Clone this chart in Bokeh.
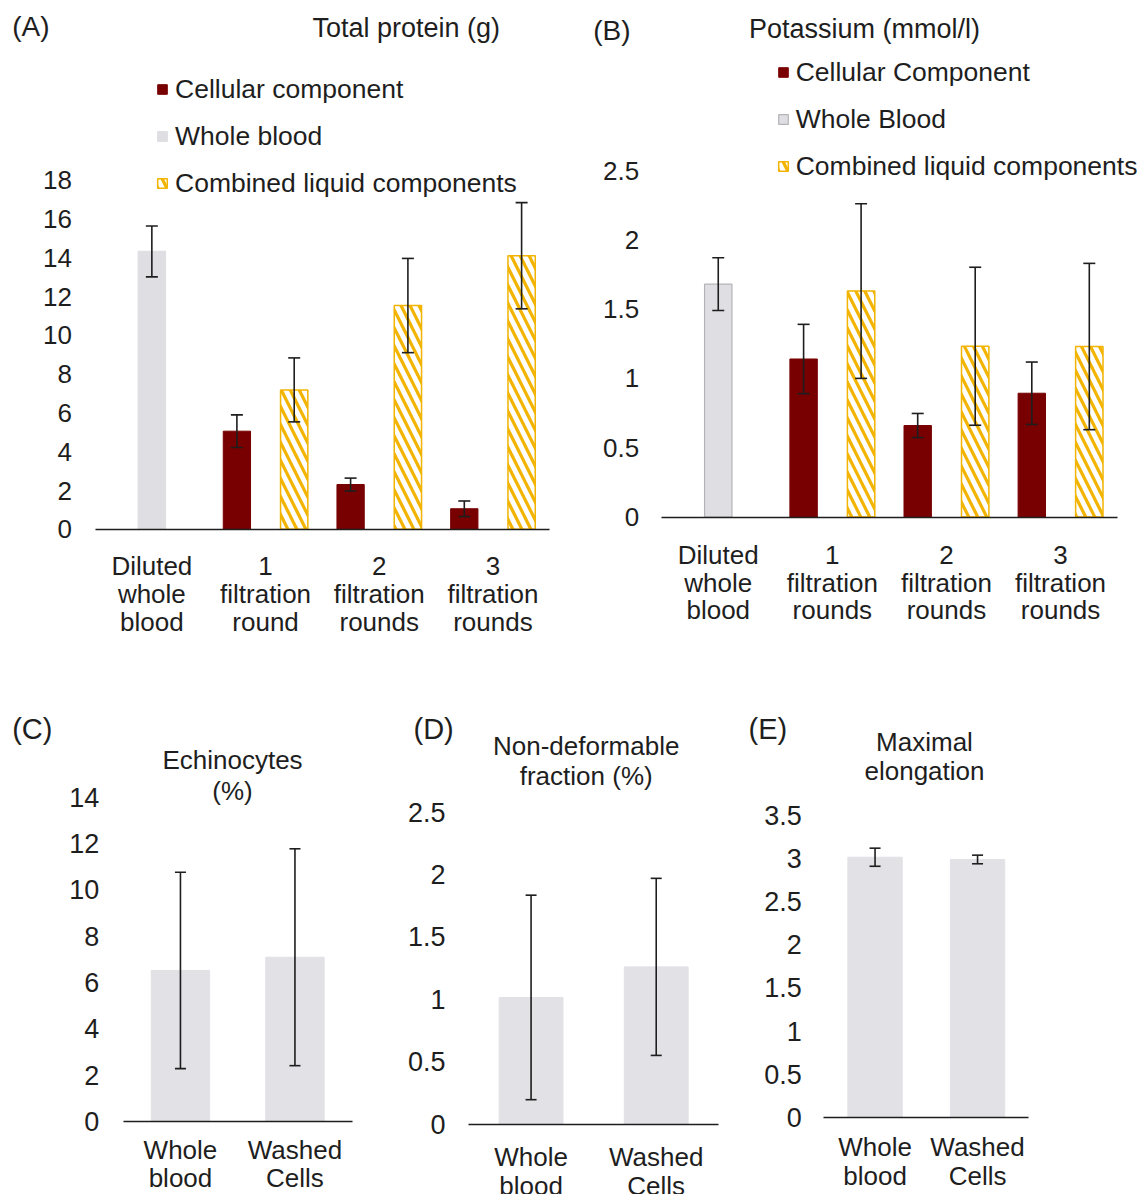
from bokeh.plotting import figure
from bokeh.models import (Range1d, FixedTicker, NumeralTickFormatter, LinearAxis,
                          ColumnDataSource, Whisker, TeeHead, Legend, LegendItem, Label)
from bokeh.transform import dodge
from bokeh.layouts import row, column
from bokeh.embed import file_html
from bokeh.resources import INLINE

FONT = "Liberation Sans"
TXT = "#1e1e1e"
RED = "#780000"
GRAY = "#dedee3"
GRAY_EDGE = "#b4b4b8"
GOLD = "#f2b400"

# ---------------- data ----------------
# (A) Total protein (g)
a_cats = ["Diluted\nwhole\nblood", "1\nfiltration\nround", "2\nfiltration\nrounds", "3\nfiltration\nrounds"]
a_whole = [14.33]
a_whole_err = [1.31]
a_cell = [5.06, 2.31, 1.06]
a_cell_err = [0.84, 0.33, 0.40]
a_liquid = [7.19, 11.54, 14.11]
a_liquid_err = [1.65, 2.43, 2.74]
a_ticks = [0, 2, 4, 6, 8, 10, 12, 14, 16, 18]

# (B) Potassium (mmol/l)
b_cats = ["Diluted\nwhole\nblood", "1\nfiltration\nrounds", "2\nfiltration\nrounds", "3\nfiltration\nrounds"]
b_whole = [1.68]
b_whole_err = [0.19]
b_cell = [1.14, 0.66, 0.893]
b_cell_err = [0.25, 0.087, 0.225]
b_liquid = [1.63, 1.232, 1.23]
b_liquid_err = [0.63, 0.57, 0.60]
b_ticks = [0, 0.5, 1, 1.5, 2, 2.5]

# (C)(D)(E)
cde_cats = ["Whole\nblood", "Washed\nCells"]
c_vals = [6.52, 7.09]
c_err = [4.24, 4.68]
c_ticks = [0, 2, 4, 6, 8, 10, 12, 14]
d_vals = [1.015, 1.26]
d_err = [0.82, 0.71]
d_ticks = [0, 0.5, 1, 1.5, 2, 2.5]
e_vals = [3.016, 2.99]
e_err = [0.105, 0.05]
e_ticks = [0, 0.5, 1, 1.5, 2, 2.5, 3, 3.5]


def src(cats, sub, vals, errs):
    return ColumnDataSource(dict(x=[cats.index(c) for c in sub], top=vals,
                                 upper=[v + e for v, e in zip(vals, errs)],
                                 lower=[v - e for v, e in zip(vals, errs)]))


def base_fig(cats, ticks, W, H, L, cw, Y0, ppu, tick_fs, ystand, xstand, xlh):
    n = len(cats)
    x0 = -0.5 - L / cw
    x1 = -0.5 + (W - L) / cw
    p = figure(width=W, height=H, x_range=Range1d(x0, x1),
               y_range=Range1d(-(H - Y0) / ppu, Y0 / ppu),
               x_axis_type=None, y_axis_type=None,
               output_backend="svg", toolbar_location=None,
               min_border_left=0, min_border_right=0, min_border_top=0, min_border_bottom=0)
    p.outline_line_color = None
    p.xgrid.visible = False
    p.ygrid.visible = False
    p.background_fill_color = "white"
    p.border_fill_color = "white"
    ya = LinearAxis(fixed_location=-0.5, ticker=FixedTicker(ticks=ticks),
                    formatter=NumeralTickFormatter(format="0.[0]"),
                    axis_line_color=None, major_tick_line_color=None, minor_tick_line_color=None,
                    major_tick_out=0, major_tick_in=0,
                    major_label_standoff=ystand, major_label_text_font=FONT,
                    major_label_text_font_size=tick_fs, major_label_text_color=TXT)
    p.add_layout(ya, "left")
    xa = LinearAxis(fixed_location=0, bounds=(-0.5, n - 0.5),
                    ticker=FixedTicker(ticks=list(range(n))),
                    major_label_overrides={i: c for i, c in enumerate(cats)},
                    axis_line_color=TXT, axis_line_width=1.6,
                    major_tick_line_color=None, minor_tick_line_color=None,
                    major_tick_out=0, major_tick_in=0,
                    major_label_standoff=xstand, major_label_text_font=FONT,
                    major_label_text_font_size="26px", major_label_text_color=TXT,
                    major_label_text_line_height=xlh)
    p.add_layout(xa, "below")
    return p


def whisker(p, s, off, cap):
    hd = dict(size=cap, line_color=TXT, line_width=1.6)
    w = Whisker(source=s, base=dodge("x", off), upper="upper", lower="lower",
                dimension="height", line_color=TXT, line_width=1.6, level="annotation",
                upper_head=TeeHead(**hd), lower_head=TeeHead(**hd))
    p.add_layout(w)


def label(p, x, y, text, fs, align="left"):
    p.add_layout(Label(x=x, y=y, x_units="screen", y_units="screen", text=text,
                       text_font=FONT, text_font_size=fs, text_color=TXT,
                       text_align=align, text_baseline="middle"))


def top_panel(cats, whole, whole_err, cell, cell_err, liquid, liquid_err, ticks,
              W, L, cw, Y0, ppu, ystand, xstand, names, whole_edge, leg_xy,
              tag, tag_xy, title, title_xy):
    H = 650
    p = base_fig(cats, ticks, W, H, L, cw, Y0, ppu, "26px", ystand, xstand, 0.92)
    off = 0.252
    bw = 0.24
    s_whole = src(cats, cats[:1], whole, whole_err)
    s_cell = src(cats, cats[1:], cell, cell_err)
    s_liq = src(cats, cats[1:], liquid, liquid_err)
    r_cell = p.vbar(x=dodge("x", -off), top="top", bottom=0, width=bw,
                    source=s_cell, fill_color=RED, line_color=RED)
    r_whole = p.vbar(x="x", top="top", bottom=0, width=bw,
                     source=s_whole, fill_color=GRAY,
                     line_color=GRAY_EDGE if whole_edge else GRAY, line_width=1.2)
    r_liq = p.vbar(x=dodge("x", off), top="top", bottom=0, width=bw,
                   source=s_liq, fill_color="white", line_color=GOLD, line_width=1.5,
                   hatch_pattern="left_diagonal_line", hatch_color=GOLD, hatch_scale=18,
                   hatch_weight=3.2)
    whisker(p, s_whole, 0, 12)
    whisker(p, s_cell, -off, 12)
    whisker(p, s_liq, off, 12)
    leg = Legend(items=[LegendItem(label=names[0], renderers=[r_cell]),
                        LegendItem(label=names[1], renderers=[r_whole]),
                        LegendItem(label=names[2], renderers=[r_liq])],
                 location=(leg_xy[0], H - leg_xy[1]), orientation="vertical",
                 padding=0, margin=0,
                 border_line_color=None, background_fill_alpha=0,
                 glyph_width=12, glyph_height=12, label_height=34, spacing=13,
                 label_standoff=7, label_text_font=FONT, label_text_font_size="26.5px",
                 label_text_color=TXT)
    p.add_layout(leg, "center")
    label(p, tag_xy[0], H - tag_xy[1], tag, "28px")
    label(p, title_xy[0], H - title_xy[1], title, "27px", "center")
    return p


# geometry in canvas pixels of each panel (left of categories, category width,
# zero line, pixels per unit) and text anchor points (canvas x, canvas y from top)
pA = top_panel(a_cats, a_whole, a_whole_err, a_cell, a_cell_err, a_liquid, a_liquid_err,
               a_ticks, 570, 94.5, 113.7, 528.8, 19.39, 23, 22,
               ["Cellular component", "Whole blood", "Combined liquid components"], False,
               (156, 200), "(A)", (11.7, 26), "Total protein (g)", (405.8, 27))
pB = top_panel(b_cats, b_whole, b_whole_err, b_cell, b_cell_err, b_liquid, b_liquid_err,
               b_ticks, 573, 90.7, 114.1, 516.5, 138.6, 22, 23,
               ["Cellular Component", "Whole Blood", "Combined liquid components"], True,
               (206.7, 183), "(B)", (22.7, 29.7), "Potassium  (mmol/l)", (297.8, 28.3))


def bottom_panel(vals, errs, ticks, W, L, cw, Y0, ppu, ystand, xstand, bw,
                 tag, tag_xy, titles, title_x, title_ys):
    H = 544
    p = base_fig(cde_cats, ticks, W, H, L, cw, Y0, ppu, "27px", ystand, xstand, 0.96)
    s = src(cde_cats, cde_cats, vals, errs)
    p.vbar(x="x", top="top", bottom=0, width=bw, source=s, fill_color="#e1e1e6",
           line_color="#e1e1e6")
    whisker(p, s, 0, 11)
    label(p, tag_xy[0], H - tag_xy[1], tag, "29px")
    for t, ty in zip(titles, title_ys):
        label(p, title_x, H - ty, t, "26px", "center")
    return p


pC = bottom_panel(c_vals, c_err, c_ticks, 380, 122.7, 114.5, 471, 23.17, 24, 13, 0.51,
                  "(C)", (11.7, 78), ["Echinocytes", "(%)"], 232, [109, 140])
pD = bottom_panel(d_vals, d_err, d_ticks, 360, 88, 125.15, 473.5, 124.7, 23, 18, 0.51,
                  "(D)", (33, 78), ["Non-deformable", "fraction (%)"], 205.7, [95, 125])
pE = bottom_panel(e_vals, e_err, e_ticks, 403, 83.3, 102.5, 466.7, 86.2, 22, 15, 0.53,
                  "(E)", (8, 78), ["Maximal", "elongation"], 184, [91.7, 120])

layout = column(row(pA, pB), row(pC, pD, pE))

open("out.html", "w").write(file_html(layout, INLINE))
